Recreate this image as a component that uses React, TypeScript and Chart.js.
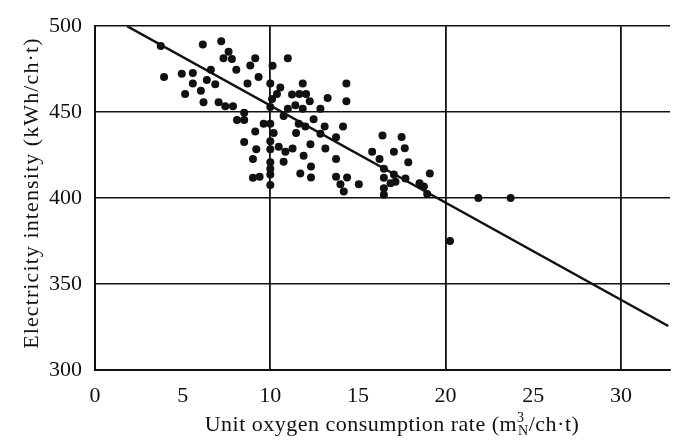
import React, { useEffect, useRef } from "react";
import { Chart, registerables } from "chart.js";

Chart.register(...registerables);

// Scatter data: unit oxygen consumption (x), electricity intensity (y)
const OXYGEN_X = [
  3.75, 3.94, 4.95, 5.58, 5.58, 5.14, 6.04, 6.19, 6.15, 7.2,
  6.61, 6.38, 6.86, 7.62, 7.33, 7.81, 8.06, 7.05, 7.43, 7.87,
  9.14, 8.86, 9.33, 8.7, 8.51, 8.1, 8.51, 9.14, 9.62, 10.0,
  10.0, 10.1, 11.0, 10.13, 10.57, 10.38, 11.24, 11.66, 12.04, 11.85,
  12.25, 11.43, 11.0, 11.85, 12.86, 13.27, 14.34, 14.34, 10.76, 11.62,
  12.0, 12.47, 13.1, 14.15, 10.19, 11.47, 12.86, 16.4, 10.0, 10.0,
  10.48, 10.86, 11.27, 10.76, 10.0, 10.0, 10.0, 12.29, 11.9, 12.32,
  11.71, 12.32, 13.14, 13.75, 13.75, 13.75, 14.38, 14.0, 14.19, 15.05,
  15.81, 16.23, 17.05, 16.48, 16.48, 16.48, 16.48, 16.86, 17.14, 17.05,
  17.49, 17.67, 17.87, 19.1, 17.71, 18.51, 18.76, 18.95, 21.87, 23.71,
  20.25, 8.51, 9.2, 9.01, 9.01, 9.39, 10.0, 10.0,
];
const ELECTRICITY_Y = [
  488.5, 470.4, 472.4, 472.8, 466.6, 460.5, 462.4, 455.8, 489.4, 491.3,
  474.7, 468.7, 466.2, 485.1, 481.3, 480.9, 474.7, 455.8, 453.5, 453.5,
  481.3, 477.2, 470.4, 466.6, 449.6, 445.4, 445.4, 438.8, 443.2, 443.2,
  466.6, 457.7, 481.3, 477.0, 464.3, 460.5, 460.2, 460.5, 460.5, 466.6,
  456.4, 454.0, 452.0, 452.0, 452.0, 458.2, 466.6, 456.4, 447.7, 443.2,
  441.6, 445.8, 441.6, 441.6, 437.8, 437.8, 437.5, 436.4, 433.1, 428.4,
  429.9, 426.9, 428.8, 421.2, 420.9, 413.7, 407.6, 431.3, 424.6, 418.4,
  414.3, 412.0, 428.8, 422.8, 435.4, 412.4, 412.0, 408.0, 403.9, 408.0,
  426.9, 422.8, 426.9, 417.1, 411.8, 405.8, 402.0, 408.6, 409.5, 413.7,
  435.6, 429.0, 420.9, 414.3, 411.4, 408.6, 406.7, 402.4, 400.1, 400.1,
  375.0, 432.7, 428.4, 422.8, 411.8, 412.4, 453.0, 417.1,
];

// Regression line endpoints
const FIT_X = [1.83, 32.7];
const FIT_Y = [500, 325.6];

const X_TICKS = [0, 5, 10, 15, 20, 25, 30];
const Y_TICKS = [300, 350, 400, 450, 500];

const Y_TITLE = "Electricity intensity (kWh/ch·t)";
const X_TITLE_MAIN = "Unit oxygen consumption rate (m";
const X_TITLE_SUP = "3";
const X_TITLE_SUB = "N";
const X_TITLE_END = "/ch·t)";

const FONT = '"Liberation Serif", "Times New Roman", serif';

const titlePlugin = {
  id: "axisTitles",
  afterDraw(chart: any) {
    const { ctx, chartArea } = chart;
    ctx.save();
    ctx.fillStyle = "#111";
    // y title
    ctx.font = `22px ${FONT}`;
    (ctx as any).letterSpacing = "1.1px";
    ctx.textAlign = "center";
    ctx.textBaseline = "middle";
    ctx.translate(32, (chartArea.top + chartArea.bottom) / 2 - 5);
    ctx.rotate(-Math.PI / 2);
    ctx.fillText(Y_TITLE, 0, 0);
    ctx.restore();

    ctx.save();
    ctx.fillStyle = "#111";
    (ctx as any).letterSpacing = "0.5px";
    ctx.textBaseline = "alphabetic";
    ctx.textAlign = "left";
    const big = `22px ${FONT}`;
    const small = `14px ${FONT}`;
    ctx.font = big;
    const w1 = ctx.measureText(X_TITLE_MAIN).width;
    const w3 = ctx.measureText(X_TITLE_END).width;
    ctx.font = small;
    const w2 = Math.max(ctx.measureText(X_TITLE_SUP).width, ctx.measureText(X_TITLE_SUB).width);
    const total = w1 + w2 + w3;
    const cx = (chartArea.left + chartArea.right) / 2 + 9;
    let x = cx - total / 2;
    const base = 431;
    ctx.font = big;
    ctx.fillText(X_TITLE_MAIN, x, base);
    x += w1;
    ctx.font = small;
    ctx.fillText(X_TITLE_SUP, x, base - 9);
    ctx.fillText(X_TITLE_SUB, x + 1, base + 4);
    x += w2 + 1;
    ctx.font = big;
    ctx.fillText(X_TITLE_END, x, base);
    ctx.restore();
  },
};

export default function App() {
  const ref = useRef<HTMLCanvasElement | null>(null);
  useEffect(() => {
    if (!ref.current) return;
    const points = OXYGEN_X.map((x, i) => ({ x, y: ELECTRICITY_Y[i] }));
    const fit = FIT_X.map((x, i) => ({ x, y: FIT_Y[i] }));
    const chart = new Chart(ref.current, {
      type: "scatter",
      data: {
        datasets: [
          {
            type: "line",
            data: fit,
            borderColor: "#111",
            borderWidth: 2.5,
            pointRadius: 0,
            fill: false,
          } as any,
          {
            data: points,
            backgroundColor: "#111",
            borderWidth: 0,
            pointRadius: 4,
          },
        ],
      },
      options: {
        responsive: false,
        animation: false,
        events: [],
        layout: { padding: { top: 17, right: 3, left: 0, bottom: 0 } },
        plugins: { legend: { display: false }, tooltip: { enabled: false } },
        scales: {
          x: {
            type: "linear",
            min: 0,
            max: 32.8,
            afterFit: (s: any) => {
              s.height = 72;
            },
            afterBuildTicks: (s: any) => {
              s.ticks = X_TICKS.map((v) => ({ value: v }));
            },
            border: { display: true, color: "#111", width: 2 },
            grid: {
              drawTicks: false,
              color: (c: any) =>
                c.tick && c.tick.value % 10 === 0 && c.tick.value !== 0 ? "#111" : "rgba(0,0,0,0)",
              lineWidth: 1.8,
            },
            ticks: {
              padding: 13,
              color: "#111",
              font: { family: FONT, size: 22 },
              maxRotation: 0,
            },
          },
          y: {
            type: "linear",
            min: 300,
            max: 500,
            afterFit: (s: any) => {
              s.width = 95;
            },
            afterBuildTicks: (s: any) => {
              s.ticks = Y_TICKS.map((v) => ({ value: v }));
            },
            border: { display: true, color: "#111", width: 2 },
            grid: {
              drawTicks: false,
              color: (c: any) => (c.tick && c.tick.value !== 300 ? "#111" : "rgba(0,0,0,0)"),
              lineWidth: 1.6,
            },
            ticks: {
              padding: 13,
              color: "#111",
              font: { family: FONT, size: 22 },
            },
          },
        },
      },
      plugins: [titlePlugin],
    });
    return () => chart.destroy();
  }, []);
  return (
    <div style={{ position: "fixed", left: 0, top: 0, width: 674, height: 442, background: "#fff" }}>
      <canvas ref={ref} width={674} height={442} style={{ display: "block" }} />
    </div>
  );
}
